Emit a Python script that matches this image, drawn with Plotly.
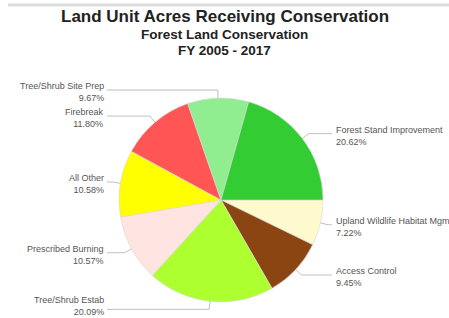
import math
import plotly.graph_objects as go

# clockwise from 3 o'clock
labels = ["Upland Wildlife Habitat Mgm", "Access Control", "Tree/Shrub Estab", "Prescribed Burning",
          "All Other", "Firebreak", "Tree/Shrub Site Prep", "Forest Stand Improvement"]
values = [7.22, 9.45, 20.09, 10.57, 10.58, 11.80, 9.67, 20.62]
colors = ["#FFFACD", "#8B4513", "#ADFF2F", "#FFE4E1", "#FFFF00", "#FF5555", "#90EE90", "#33CC33"]
title_lines = ["Land Unit Acres Receiving Conservation", "Forest Land Conservation", "FY 2005 - 2017"]

W, H = 449, 318
CX, CY, R = 221, 200, 102  # pie centre / radius in px (top-left origin)
START = 90  # degrees clockwise from 12 o'clock

fig = go.Figure(go.Pie(
    labels=labels, values=values, sort=False, direction="clockwise",
    rotation=START, textinfo="none", hoverinfo="label+percent",
    marker=dict(colors=colors, line=dict(color="#d8d8d8", width=0.6)),
    domain=dict(x=[(CX - R) / W, (CX + R) / W], y=[(H - CY - R) / H, (H - CY + R) / H]),
    showlegend=False,
))

def px(x):
    return x / W

def py(y):
    return 1 - y / H

shapes = [dict(type="line", xref="paper", yref="paper", x0=px(8), x1=px(449), y0=py(5), y1=py(5),
               line=dict(color="#dcdcdc", width=3))]
annotations = []
total = sum(values)
cum = 0.0
for lab, v in zip(labels, values):
    a0 = START + cum / total * 360
    cum += v
    a1 = START + cum / total * 360
    mid = math.radians((a0 + a1) / 2)
    ex, ey = CX + R * math.sin(mid), CY - R * math.cos(mid)
    bx, by = CX + (R + 8) * math.sin(mid), CY - (R + 8) * math.cos(mid)
    right = math.sin(mid) > 0.05
    lx = 332 if right else 107
    line_style = dict(color="#b0b0b0", width=0.8)
    shapes.append(dict(type="line", xref="paper", yref="paper", x0=px(ex), y0=py(ey), x1=px(bx), y1=py(by), line=line_style))
    shapes.append(dict(type="line", xref="paper", yref="paper", x0=px(bx), y0=py(by), x1=px(lx), y1=py(by), line=line_style))
    annotations.append(dict(
        xref="paper", yref="paper", x=px(lx + 3 if right else lx - 2), y=py(min(by + 2, 306)),
        xanchor="left" if right else "right", yanchor="middle",
        align="left" if right else "right", showarrow=False, borderpad=0,
        text=f"{lab}<br>{v:.2f}%", font=dict(size=9, color="#555555", family="Liberation Sans, Arial")))

for txt, yy, sz in zip(title_lines, [17, 35, 51], [17, 13.5, 13.5]):
    annotations.append(dict(xref="paper", yref="paper", x=0.501, y=py(yy), yanchor="middle",
                            text=f"<b>{txt}</b>", showarrow=False,
                            font=dict(size=sz, color="#222222", family="Liberation Sans, Arial")))

fig.update_layout(width=W, height=H, margin=dict(l=0, r=0, t=0, b=0),
                  paper_bgcolor="white", plot_bgcolor="white",
                  shapes=shapes, annotations=annotations)
fig.write_html("out.html", config={"displayModeBar": False},
               post_script="document.body.style.margin='0';document.body.style.overflow='hidden';")
